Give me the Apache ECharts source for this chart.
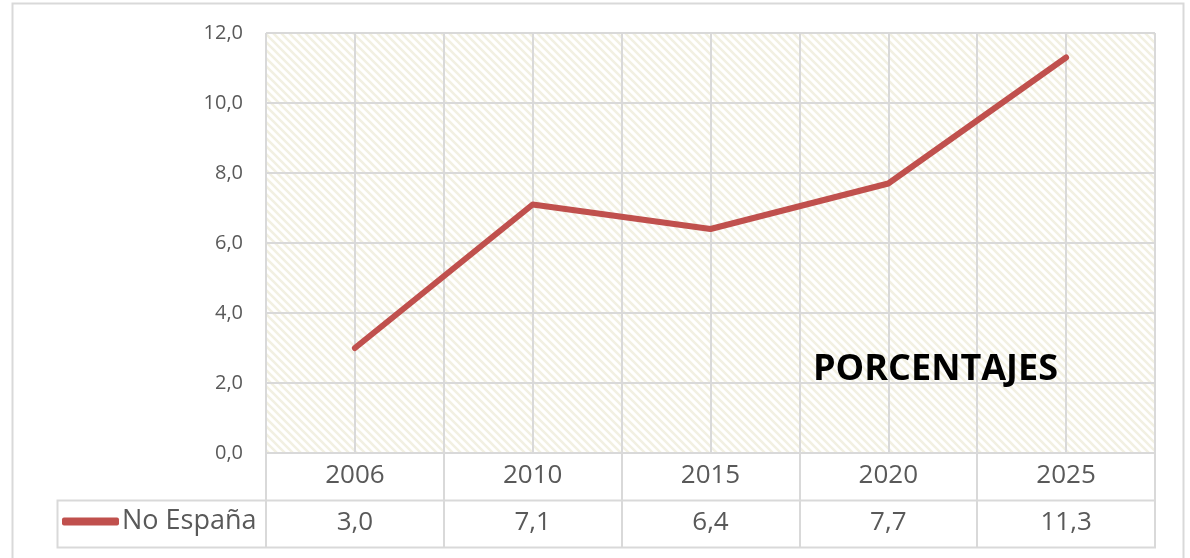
<!DOCTYPE html>
<html>
<head>
<meta charset="utf-8">
<script src="https://cdn.jsdelivr.net/npm/echarts@6/dist/echarts.min.js"></script>
<style>
html,body{margin:0;padding:0;background:#fff;}
#chart{width:1190px;height:558px;}
</style>
</head>
<body>
<div id="chart"></div>
<script>
const categories = ['2006', '2010', '2015', '2020', '2025'];
const seriesName = 'No España';
const values = [3.0, 7.1, 6.4, 7.7, 11.3];
const yTicks = [0, 2, 4, 6, 8, 10, 12];
const chartTitle = 'PORCENTAJES';

const fmt = v => v.toFixed(1).replace('.', ',');

// hatch pattern
const pc = document.createElement('canvas');
pc.width = 8; pc.height = 8;
const pctx = pc.getContext('2d');
pctx.fillStyle = '#ffffff';
pctx.fillRect(0, 0, 8, 8);
pctx.strokeStyle = '#f2f0e2';
pctx.lineWidth = 2.6;
pctx.beginPath();
pctx.moveTo(-2, -2); pctx.lineTo(10, 10);
pctx.moveTo(-10, -2); pctx.lineTo(2, 10);
pctx.moveTo(6, -2); pctx.lineTo(18, 10);
pctx.stroke();

const FONT = '"Open Sans", "Noto Sans", sans-serif';
const GRAY = '#d9d9d9';
const TXT = '#595959';

const chart = echarts.init(document.getElementById('chart'));
chart.setOption({
  animation: false,
  title: {
    text: chartTitle,
    left: 813, top: 352, padding: 0,
    textStyle: { fontFamily: FONT, fontSize: 36, fontWeight: 'bold', color: '#000' }
  },
  legend: {
    data: [seriesName],
    left: 62, top: 508, padding: 0,
    itemWidth: 57, itemHeight: 8,
    icon: 'roundRect',
    textStyle: { fontFamily: FONT, fontSize: 27, color: TXT, padding: [0, 0, 0, -2] }
  },
  grid: {
    left: 266, right: 35, top: 33, bottom: 105,
    show: true, borderWidth: 0,
    backgroundColor: { image: pc, repeat: 'repeat' }
  },
  graphic: [
    { type: 'rect', shape: { x: 12.5, y: 3.5, width: 1171, height: 600 }, style: { fill: 'none', stroke: GRAY, lineWidth: 2 }, silent: true },
    { type: 'rect', shape: { x: 57.5, y: 500.5, width: 1097.5, height: 47 }, style: { fill: 'none', stroke: GRAY, lineWidth: 2 }, silent: true, z: 10 }
  ],
  xAxis: [
    {
      type: 'category', data: categories, boundaryGap: true, position: 'bottom',
      axisLine: { show: true, lineStyle: { color: GRAY, width: 2 } },
      axisTick: { show: true, interval: 0, length: 94, lineStyle: { color: GRAY, width: 2 } },
      axisLabel: { interval: 0, margin: 10, fontFamily: FONT, fontSize: 26, color: TXT },
      splitLine: { show: false }
    },
    {
      type: 'category', data: values.map(fmt), boundaryGap: true, position: 'bottom', offset: 47,
      axisLine: { show: false }, axisTick: { show: false },
      axisLabel: { interval: 0, margin: 10, fontFamily: FONT, fontSize: 26, color: TXT },
      splitLine: { show: false }
    },
    {
      type: 'value', min: 0, max: categories.length * 2, interval: 1, position: 'top',
      axisLine: { show: false }, axisTick: { show: false }, axisLabel: { show: false },
      splitLine: { show: true, lineStyle: { color: GRAY, width: 2 } }
    }
  ],
  yAxis: {
    type: 'value', min: yTicks[0], max: yTicks[yTicks.length - 1], interval: 2,
    axisLine: { show: false }, axisTick: { show: false },
    axisLabel: { margin: 23, fontFamily: FONT, fontSize: 20, color: TXT, formatter: v => fmt(v) },
    splitLine: { show: true, lineStyle: { color: GRAY, width: 2 } }
  },
  series: [{
    name: seriesName, type: 'line', data: values, xAxisIndex: 0,
    symbol: 'none', color: '#c0504d',
    lineStyle: { width: 6, color: '#c0504d', cap: 'round', join: 'round' },
    z: 5
  }]
});
</script>
</body>
</html>
